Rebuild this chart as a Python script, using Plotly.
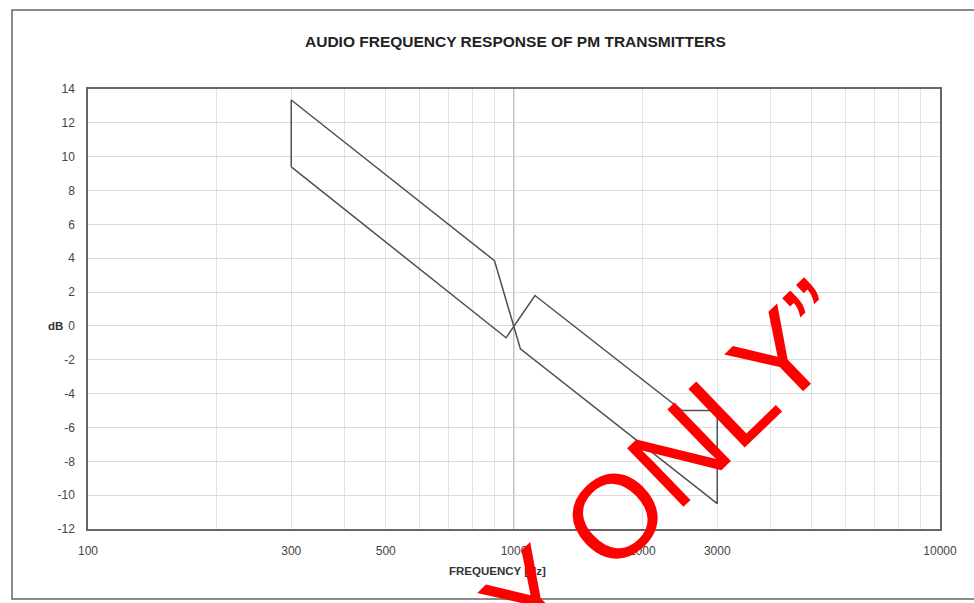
import plotly.graph_objects as go

# ---- data ----
upper_freq = [300, 300, 900, 1035, 3000, 3000]
upper_db = [9.4, 13.35, 3.85, -1.35, -10.5, -5.0]
lower_freq = [300, 958, 1120, 2480, 3000]
lower_db = [9.4, -0.7, 1.8, -5.0, -5.0]

grid_freqs = [100, 200, 300, 400, 500, 600, 700, 800, 900,
              1000, 2000, 3000, 4000, 5000, 6000, 7000, 8000, 9000, 10000]
labeled_freqs = [100, 300, 500, 1000, 2000, 3000, 10000]
x_ticktext = [str(f) if f in labeled_freqs else "" for f in grid_freqs]
y_ticks = list(range(-12, 15, 2))
y_ticktext = [str(v) for v in y_ticks]

title_text = "AUDIO FREQUENCY RESPONSE OF PM TRANSMITTERS"
x_title = "FREQUENCY [Hz]"
y_title = "dB"
watermark = "\u201cCOPY ONLY\u201d"

W, H = 974, 603
L, R, T, B = 88, 34, 89, 74
PW, PH = W - L - R, H - T - B


def px(xp):
    return (xp - L) / PW


def py(yp):
    return ((H - B) - yp) / PH


fig = go.Figure()
line_style = dict(color="#505050", width=1.5)
fig.add_trace(go.Scatter(x=upper_freq, y=upper_db, mode="lines", line=line_style,
                         showlegend=False, hoverinfo="skip"))
fig.add_trace(go.Scatter(x=lower_freq, y=lower_db, mode="lines", line=line_style,
                         showlegend=False, hoverinfo="skip"))

font_family = "Liberation Sans, Arial, sans-serif"

fig.update_layout(
    width=W, height=H,
    margin=dict(l=L, r=R, t=T, b=B),
    paper_bgcolor="white", plot_bgcolor="white",
    font=dict(family=font_family, color="#333333", size=12),
    xaxis=dict(type="log", range=[2, 4], tickvals=grid_freqs, ticktext=x_ticktext,
               showgrid=True, gridcolor="#e2e2e2", gridwidth=1,
               showline=True, linecolor="#666666", linewidth=1.5, mirror=True,
               ticks="", zeroline=False, ticklabelstandoff=10,
               tickfont=dict(size=12, color="#444444")),
    yaxis=dict(range=[-12, 14], tickvals=y_ticks, ticktext=y_ticktext,
               showgrid=True, gridcolor="#dcdcdc", gridwidth=1,
               showline=True, linecolor="#666666", linewidth=1.5, mirror=True,
               ticks="", zeroline=False, ticklabelstandoff=9,
               tickfont=dict(size=12, color="#444444")),
    shapes=[
        dict(type="line", xref="x", yref="paper", x0=1000, x1=1000, y0=0, y1=1,
             line=dict(color="#9a9a9a", width=1.2), layer="below"),
        dict(type="rect", xref="paper", yref="paper",
             x0=px(12), x1=px(980), y0=py(599), y1=py(10),
             line=dict(color="#666666", width=1.5)),
    ],
    annotations=[
        dict(text="<b>" + title_text + "</b>", xref="paper", yref="paper",
             x=px(515), y=py(42),
             showarrow=False, font=dict(size=15.5, color="#222222"),
             xanchor="center", yanchor="middle"),
        dict(text="<b>" + y_title + "</b>", xref="paper", yref="paper",
             x=px(55), y=py(326),
             showarrow=False, font=dict(size=11.5, color="#333333"),
             xanchor="center", yanchor="middle"),
        dict(text="<b>" + x_title + "</b>", xref="paper", yref="paper",
             x=px(497), y=py(571),
             showarrow=False, font=dict(size=11.5, color="#333333"),
             xanchor="center", yanchor="middle"),
        dict(text=watermark, xref="paper", yref="paper",
             x=px(563), y=py(566),
             showarrow=False, textangle=-44,
             font=dict(size=118, color="#ff0000", family=font_family),
             xanchor="center", yanchor="middle"),
    ],
)

fig.write_html(
    "out.html",
    config={"displayModeBar": False},
    post_script="document.body.style.margin='0';document.body.style.overflow='hidden';",
)
